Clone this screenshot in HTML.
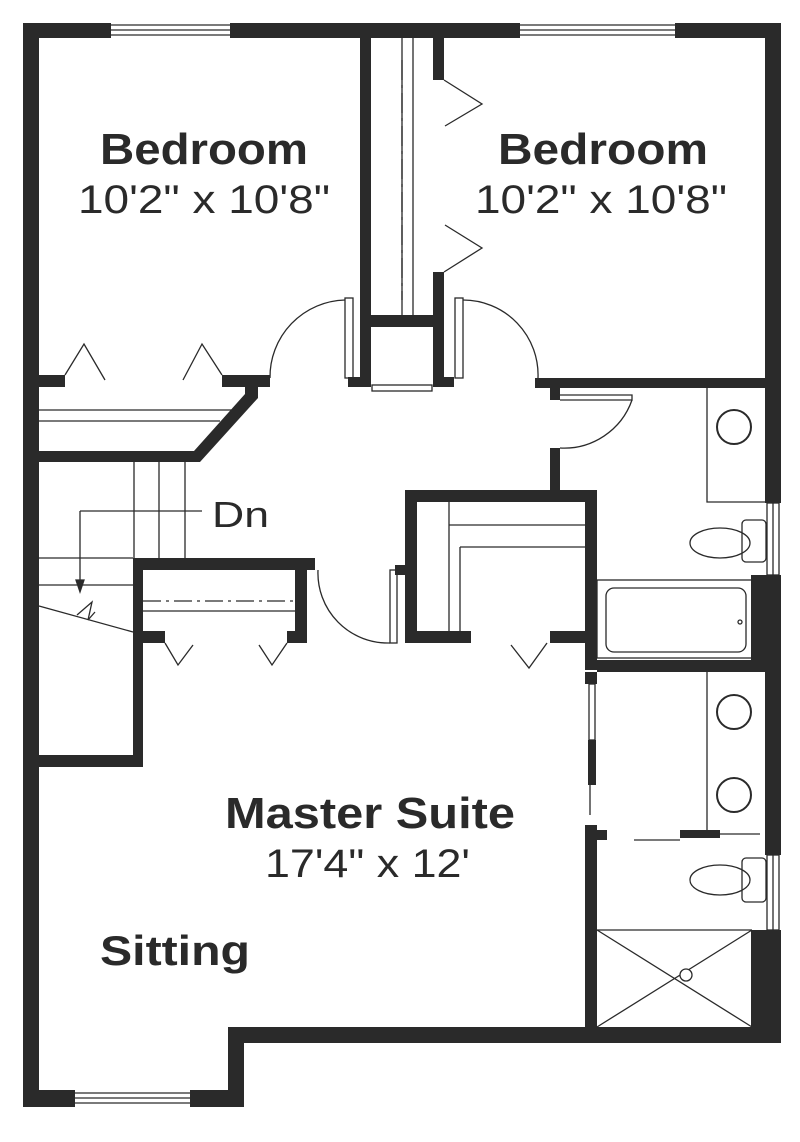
<!DOCTYPE html>
<html><head><meta charset="utf-8"><style>
html,body{margin:0;padding:0;background:#fff;}
svg{display:block;}
text{font-family:"Liberation Sans",sans-serif;fill:#2a2a2a;}
</style></head><body>
<svg width="800" height="1142" viewBox="0 0 800 1142" xmlns="http://www.w3.org/2000/svg">
<g fill="#2a2a2a">
<!-- outer walls -->
<rect x="23" y="23" width="88" height="15"/>
<rect x="230" y="23" width="290" height="15"/>
<rect x="675" y="23" width="106" height="15"/>
<rect x="23" y="23" width="16" height="1084"/>
<rect x="765" y="23" width="16" height="480"/>
<rect x="765" y="575" width="16" height="95"/>
<rect x="751" y="575" width="30" height="95"/>
<rect x="765" y="670" width="16" height="185"/>
<rect x="765" y="930" width="16" height="113"/>
<rect x="751" y="930" width="30" height="113"/>
<rect x="228" y="1027" width="553" height="16"/>
<rect x="228" y="1027" width="16" height="80"/>
<rect x="23" y="1090" width="52" height="17"/>
<rect x="190" y="1090" width="54" height="17"/>
<!-- closet column between bedrooms -->
<rect x="360" y="38" width="11" height="349"/>
<rect x="433" y="38" width="11" height="42"/>
<rect x="433" y="272" width="11" height="115"/>
<rect x="360" y="315" width="84" height="12"/>
<rect x="348" y="377" width="22" height="10"/>
<rect x="434" y="377" width="20" height="10"/>
<!-- left bedroom bottom wall -->
<rect x="23" y="375" width="42" height="12"/>
<rect x="222" y="375" width="48" height="12"/>
<polygon points="245,387 258,387 258,398 200,462 23,462 23,451 194,451 245,394"/>
<!-- right bedroom bottom wall -->
<rect x="535" y="378" width="246" height="10"/>
<rect x="550" y="388" width="10" height="12"/>
<rect x="550" y="448" width="10" height="44"/>
<!-- master closet -->
<rect x="405" y="490" width="192" height="12"/>
<rect x="405" y="490" width="12" height="153"/>
<rect x="405" y="631" width="66" height="12"/>
<rect x="550" y="631" width="47" height="12"/>
<rect x="585" y="490" width="12" height="180"/>
<rect x="597" y="660" width="168" height="12"/>
<rect x="585" y="672" width="12" height="12"/>
<rect x="588" y="740" width="8" height="45"/>
<rect x="585" y="825" width="12" height="202"/>
<rect x="597" y="830" width="10" height="10"/>
<rect x="680" y="830" width="40" height="8"/>
<rect x="395" y="565" width="10" height="10"/>
<!-- stair / closet walls -->
<rect x="133" y="558" width="182" height="12"/>
<rect x="133" y="558" width="10" height="209"/>
<rect x="23" y="755" width="120" height="12"/>
<rect x="295" y="558" width="12" height="85"/>
<rect x="143" y="631" width="22" height="12"/>
<rect x="287" y="631" width="20" height="12"/>
</g>
<g fill="none" stroke="#2a2a2a" stroke-width="1.3">
<!-- windows -->
<path d="M111 25 H230 M111 30 H230 M111 35 H230"/>
<path d="M520 25 H675 M520 30 H675 M520 35 H675"/>
<path d="M75 1093 H190 M75 1098 H190 M75 1103 H190"/>
<rect x="767" y="503" width="12" height="72"/><path d="M773 503 V575"/>
<rect x="767" y="855" width="12" height="75"/><path d="M773 855 V930"/>
<!-- closet column lines -->
<path d="M402 38 V315 M413 38 V315"/>
<path d="M402 60 V300" stroke-dasharray="20 5 3 5"/>
<rect x="372" y="385" width="60" height="6"/>
<!-- right bedroom bifold -->
<path d="M444 80 L482 104 L445 126 M445 225 L482 248 L444 272"/>
<!-- bedroom doors -->
<rect x="345" y="298" width="8" height="80"/>
<path d="M345 300 A77 77 0 0 0 270 378"/>
<rect x="455" y="298" width="8" height="80"/>
<path d="M463 300 A75 75 0 0 1 538 378"/>
<!-- left bedroom bifold -->
<path d="M65 375 L84 344 L105 380 M183 380 L202 344 L222 375"/>
<!-- linen shelves -->
<path d="M39 410 H232 M39 421 H220" />
<!-- stair lines -->
<path d="M134 462 V558 M159 462 V558 M185 462 V558"/>
<path d="M80 511 H202 M80 511 V590"/>
<path d="M76 580 L80 592 L84 580 Z" fill="#2a2a2a"/>
<path d="M39 558 H133 M39 585 H133 M39 606 L133 632"/>
<path d="M77 615 L92 602 L88 620 L95 612"/>
<!-- stair closet shelves -->
<path d="M143 601 H295" stroke-dasharray="18 5 3 5"/>
<path d="M143 611 H295"/>
<path d="M165 643 L178 665 L193 645 M259 645 L272 665 L287 643"/>
<!-- master closet door -->
<path d="M318 570 A70 70 0 0 0 390 643"/>
<rect x="390" y="570" width="7" height="73"/>
<!-- master closet shelves -->
<path d="M449 502 V631 M460 547 V631 M449 525 H585 M460 547 H585"/>
<path d="M449 525 H585" stroke-dasharray="18 5 3 5" stroke="#fff" stroke-width="0"/>
<path d="M511 645 L529 668 L547 643"/>
<!-- bath door -->
<path d="M560 395 H632 V400 H560"/>
<path d="M632 400 A72 72 0 0 1 560 448"/>
<!-- vanity 1 -->
<path d="M707 388 V502 H765"/>
<circle cx="734" cy="427" r="17" stroke-width="2"/>
<!-- toilet 1 -->
<ellipse cx="720" cy="543" rx="30" ry="15"/>
<rect x="742" y="520" width="24" height="42" rx="4"/>
<!-- tub -->
<rect x="597" y="580" width="155" height="78"/>
<rect x="606" y="588" width="140" height="64" rx="8"/>
<circle cx="740" cy="622" r="2"/>
<!-- vanity 2 -->
<path d="M707 672 V830"/>
<circle cx="734" cy="712" r="17" stroke-width="2"/>
<circle cx="734" cy="795" r="17" stroke-width="2"/>
<path d="M720 834 H760 M634 840 H680"/>
<rect x="589" y="684" width="6" height="56"/>
<path d="M590 785 V815"/>
<!-- toilet 2 -->
<ellipse cx="720" cy="880" rx="30" ry="15"/>
<rect x="742" y="858" width="24" height="44" rx="4"/>
<!-- shower -->
<path d="M597 930 H752 M597 930 L752 1027 M752 930 L597 1027"/>
<circle cx="686" cy="975" r="6" fill="#fff"/>
</g>
<text x="100" y="164" font-size="44" font-weight="bold" textLength="208" lengthAdjust="spacingAndGlyphs">Bedroom</text>
<text x="78" y="213" font-size="40" textLength="252" lengthAdjust="spacingAndGlyphs">10'2" x 10'8"</text>
<text x="498" y="164" font-size="44" font-weight="bold" textLength="210" lengthAdjust="spacingAndGlyphs">Bedroom</text>
<text x="475" y="213" font-size="40" textLength="252" lengthAdjust="spacingAndGlyphs">10'2" x 10'8"</text>
<text x="212" y="527" font-size="36" textLength="57" lengthAdjust="spacingAndGlyphs">Dn</text>
<text x="225" y="828" font-size="44" font-weight="bold" textLength="290" lengthAdjust="spacingAndGlyphs">Master Suite</text>
<text x="265" y="877" font-size="40" textLength="205" lengthAdjust="spacingAndGlyphs">17'4" x 12'</text>
<text x="100" y="965" font-size="42" font-weight="bold" textLength="150" lengthAdjust="spacingAndGlyphs">Sitting</text>
</svg>
</body></html>
